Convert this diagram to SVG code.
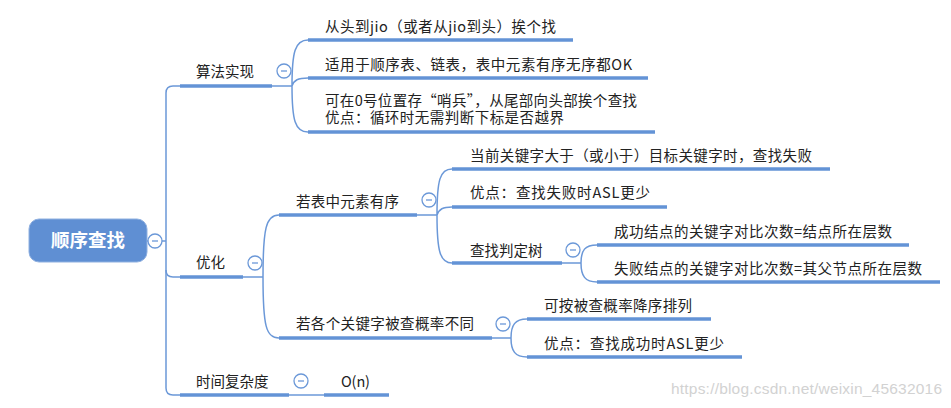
<svg xmlns="http://www.w3.org/2000/svg" width="951" height="408" viewBox="0 0 951 408">
<style>
.t{font-family:"Noto Sans CJK SC","Noto Sans",sans-serif;font-size:14.5px;fill:#222}
.u{stroke:#6393d6;stroke-width:3.6;fill:none}
.c{stroke:#6b98d8;stroke-width:1.5;fill:none}
.b{fill:#fff;stroke:#6b98d8;stroke-width:1.3}
.m{stroke:#6b98d8;stroke-width:1.3}
</style>
<rect width="951" height="408" fill="#fff"/>
<g id="connectors">
<path class="c" d="M147,241 H166"/>
<path class="c" d="M180,86 H173 Q166,86 166,93 V388 Q166,395 173,395 H180"/>
<path class="c" d="M166,270 Q166,277 173,277 H180"/>
<path class="c" d="M272,86 H292 M292,86 C292,52 295,40 308,40 M292,86 C294,80 298,78 308,78 M292,86 C292,120 295,132 308,132"/>
<path class="c" d="M243,277 H263 M263,277 C263,228 266,215 279,215 M263,277 C263,326 266,338 279,338"/>
<path class="c" d="M417,215 H437 M437,215 C437,180 440,169 452,169 M437,215 C439,209 443,207 452,207 M437,215 C437,251 440,263 452,263"/>
<path class="c" d="M562,263 H581 M581,263 C581,250 585,245 597,245 M581,263 C581,276 585,282 597,282"/>
<path class="c" d="M492,338 H511 M511,338 C511,325 515,319 527,319 M511,338 C511,351 515,357 527,357"/>
<path class="c" d="M289,395 H324"/>
</g>
<g id="root">
<rect x="29" y="219" width="118" height="43" rx="10" fill="#5f8fd3" stroke="#8fb0e0" stroke-width="1"/>
<text x="88" y="247" text-anchor="middle" style="font-family:'Noto Sans CJK SC',sans-serif;font-size:18.5px;font-weight:bold;fill:#fff">顺序查找</text>
</g>
<g id="suanfa">
<text class="t" x="196" y="76.5">算法实现</text>
<path class="u" d="M180,86 H272"/>
</g>
<g id="suanfa-1">
<text class="t" x="325" y="31.5" textLength="231">从头到jio（或者从jio到头）挨个找</text>
<path class="u" d="M308,40 H573"/>
</g>
<g id="suanfa-2">
<text class="t" x="325" y="69.5" textLength="307">适用于顺序表、链表，表中元素有序无序都OK</text>
<path class="u" d="M308,78 H648"/>
</g>
<g id="suanfa-3">
<text class="t"><tspan x="325" y="105.5" textLength="312">可在0号位置存“哨兵”，从尾部向头部挨个查找</tspan><tspan x="325" y="122.5" textLength="239">优点：循环时无需判断下标是否越界</tspan></text>
<path class="u" d="M308,132 H655"/>
</g>
<g id="youhua">
<text class="t" x="196" y="267.5">优化</text>
<path class="u" d="M180,277 H243"/>
</g>
<g id="youxu">
<text class="t" x="296" y="206.5" textLength="103">若表中元素有序</text>
<path class="u" d="M279,215 H417"/>
</g>
<g id="youxu-1">
<text class="t" x="470" y="160.5" textLength="342">当前关键字大于（或小于）目标关键字时，查找失败</text>
<path class="u" d="M452,169 H830"/>
</g>
<g id="youxu-2">
<text class="t" x="470" y="197.5" textLength="180">优点：查找失败时ASL更少</text>
<path class="u" d="M452,207 H667"/>
</g>
<g id="pandingshu">
<text class="t" x="470" y="255.5">查找判定树</text>
<path class="u" d="M452,263 H562"/>
</g>
<g id="pandingshu-1">
<text class="t" x="614" y="236.5" textLength="278">成功结点的关键字对比次数=结点所在层数</text>
<path class="u" d="M597,245 H909"/>
</g>
<g id="pandingshu-2">
<text class="t" x="614" y="273.5" textLength="308">失败结点的关键字对比次数=其父节点所在层数</text>
<path class="u" d="M597,282 H940"/>
</g>
<g id="gailv">
<text class="t" x="296" y="328.5" textLength="178">若各个关键字被查概率不同</text>
<path class="u" d="M279,338 H492"/>
</g>
<g id="gailv-1">
<text class="t" x="544" y="310.5" textLength="148">可按被查概率降序排列</text>
<path class="u" d="M527,319 H711"/>
</g>
<g id="gailv-2">
<text class="t" x="544" y="348.5" textLength="180">优点：查找成功时ASL更少</text>
<path class="u" d="M527,357 H742"/>
</g>
<g id="shijian">
<text class="t" x="196" y="386.5">时间复杂度</text>
<path class="u" d="M180,395 H289"/>
</g>
<g id="on">
<text class="t" x="341" y="386.5" textLength="29">O(n)</text>
<path class="u" d="M324,395 H389"/>
</g>
<g id="toggles">
<circle class="b" cx="155" cy="241" r="7"/><path class="m" d="M152,241 H158"/>
<circle class="b" cx="284" cy="71" r="7"/><path class="m" d="M281,71 H287"/>
<circle class="b" cx="255" cy="263" r="7"/><path class="m" d="M252,263 H258"/>
<circle class="b" cx="429" cy="200" r="7"/><path class="m" d="M426,200 H432"/>
<circle class="b" cx="573" cy="250" r="7"/><path class="m" d="M570,250 H576"/>
<circle class="b" cx="503" cy="324" r="7"/><path class="m" d="M500,324 H506"/>
<circle class="b" cx="301" cy="381" r="7"/><path class="m" d="M298,381 H304"/>
</g>
<text x="671" y="394" textLength="271" style="font-family:'Liberation Sans',sans-serif;font-size:15.5px;fill:#d2d2d2">https://blog.csdn.net/weixin_45632016</text>
</svg>
